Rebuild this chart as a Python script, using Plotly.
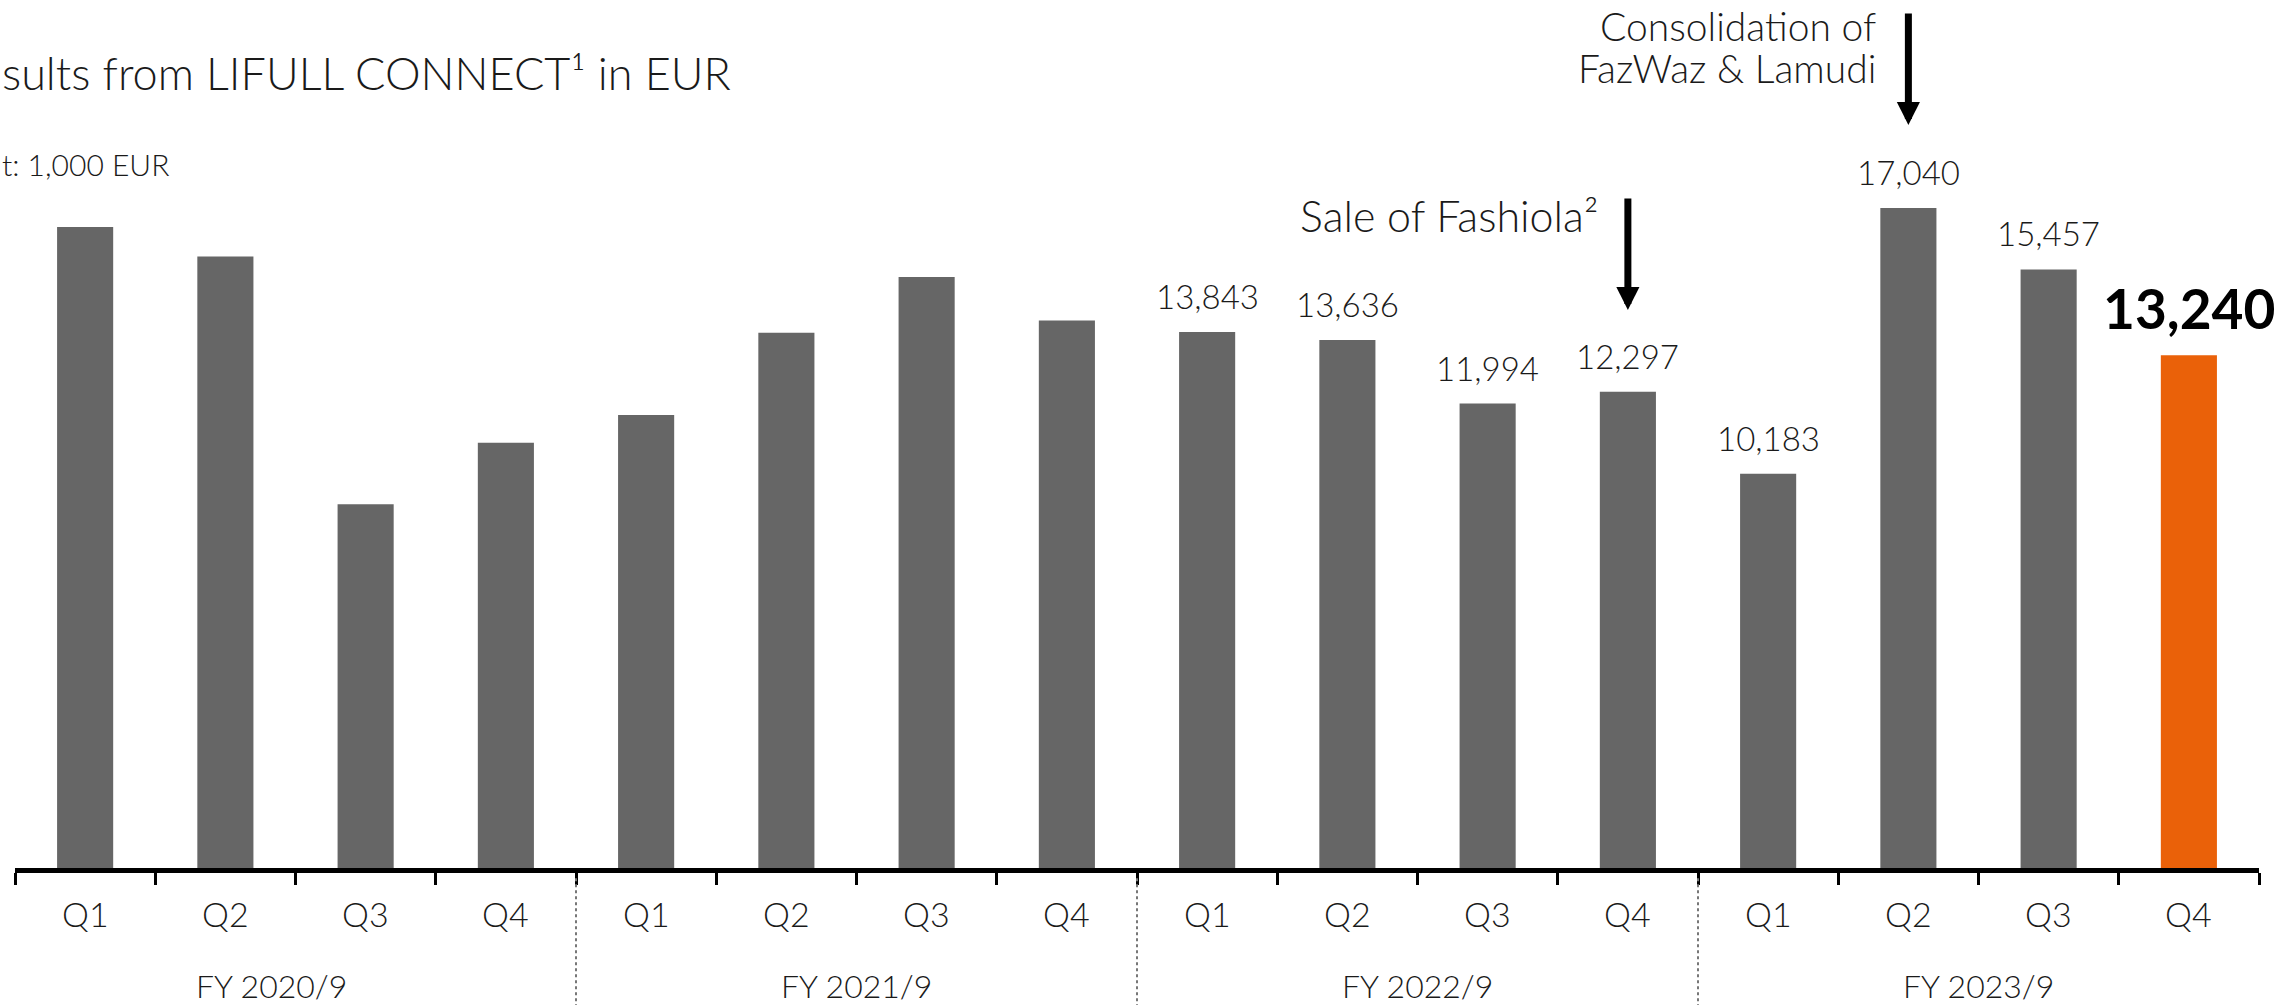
import plotly.graph_objects as go

quarters = ["Q1", "Q2", "Q3", "Q4"] * 4
fiscal_years = ["FY 2020/9", "FY 2021/9", "FY 2022/9", "FY 2023/9"]
values = [16550, 15790, 9390, 10980,
          11700, 13820, 15260, 14140,
          13843, 13636, 11994, 12297,
          10183, 17040, 15457, 13240]
labeled = [False] * 8 + [True] * 8
bar_colors = ["#666666"] * 15 + ["#EA6109"]

FONT = "Lato"
TXT = "#1a1a1a"
x = list(range(len(values)))

fig = go.Figure()
fig.add_trace(go.Bar(x=x, y=values, width=0.4, marker=dict(color=bar_colors, line=dict(width=0)),
                     hoverinfo="skip"))

ann = []
# value labels
for i, (v, show) in enumerate(zip(values, labeled)):
    if not show:
        continue
    last = i == len(values) - 1
    ann.append(dict(x=i, y=v, xref="x", yref="y", text=f"{v:,}", showarrow=False,
                    yanchor="bottom", yshift=14 if not last else 12,
                    font=dict(family=FONT, size=55 if last else 33, color="#000" if last else TXT,
                              weight=700 if last else 300)))
# quarter labels
for i, q in enumerate(quarters):
    ann.append(dict(x=i, y=0, xref="x", yref="y", text=q, showarrow=False, yanchor="middle",
                    yshift=-45, font=dict(family=FONT, size=34, color=TXT, weight=300)))
# fiscal year labels
fy_pos = [1.33, 5.5, 9.5, 13.5]
for p, fy in zip(fy_pos, fiscal_years):
    ann.append(dict(x=p, y=0, xref="x", yref="paper", text=fy, showarrow=False, yanchor="top",
                    yshift=-96, font=dict(family=FONT, size=32, color=TXT, weight=300)))
# title & unit
ann.append(dict(x=0, y=0.933, xref="paper", yref="paper", xshift=-15, xanchor="left", yanchor="middle",
                text="sults from LIFULL CONNECT¹ in EUR", showarrow=False,
                font=dict(family=FONT, size=45, color=TXT, weight=300)))
ann.append(dict(x=0, y=0.826, xref="paper", yref="paper", xshift=-15, xanchor="left", yanchor="middle",
                text="t: 1,000 EUR", showarrow=False,
                font=dict(family=FONT, size=30, color=TXT, weight=300)))
# event notes
note_font = dict(family=FONT, size=39, color=TXT, weight=300)
ann.append(dict(x=12.784, y=0.988, xref="x", yref="paper", xanchor="right", yanchor="middle",
                text="Consolidation of", showarrow=False, font=note_font))
ann.append(dict(x=12.784, y=0.939, xref="x", yref="paper", xanchor="right", yanchor="middle",
                text="FazWaz & Lamudi", showarrow=False, font=note_font))
ann.append(dict(x=10.80, y=0.766, xref="x", yref="paper", xanchor="right", yanchor="middle",
                text="Sale of Fashiola²", showarrow=False,
                font=dict(family=FONT, size=43, color=TXT, weight=300)))
# arrows
for xa, y_tip, y_tail in [(13, 19186, 22103), (11, 14408, 17326)]:
    ann.append(dict(x=xa, y=y_tip, ax=xa, ay=y_tail, xref="x", yref="y", axref="x", ayref="y",
                    text="", showarrow=True, arrowhead=2, arrowwidth=7, arrowsize=0.66,
                    arrowcolor="#000"))

shapes = []
for b in [3.5, 7.5, 11.5]:
    shapes.append(dict(type="line", xref="x", yref="paper", x0=b, x1=b, y0=-0.012, y1=-0.17,
                       line=dict(color="#777777", width=2, dash="dot")))

fig.update_layout(
    width=2284, height=1005, autosize=False,
    margin=dict(l=15, r=25, t=16, b=137, pad=0, autoexpand=False),
    paper_bgcolor="white", plot_bgcolor="white",
    showlegend=False, annotations=ann, shapes=shapes,
    xaxis=dict(range=[-0.5, 15.5], showgrid=False, zeroline=False, showline=True, automargin=False,
               linecolor="#000", linewidth=5, ticks="outside", tickcolor="#000",
               ticklen=12, tickwidth=3, tickmode="array",
               tickvals=[k - 0.5 for k in range(17)], showticklabels=False, fixedrange=True),
    yaxis=dict(range=[0, 22000], visible=False, fixedrange=True, automargin=False),
)
# remove the browser's default page margin so the figure starts at the window's corner
fig.write_html("out.html", config={"displayModeBar": False},
               post_script="document.body.style.margin='0';")
